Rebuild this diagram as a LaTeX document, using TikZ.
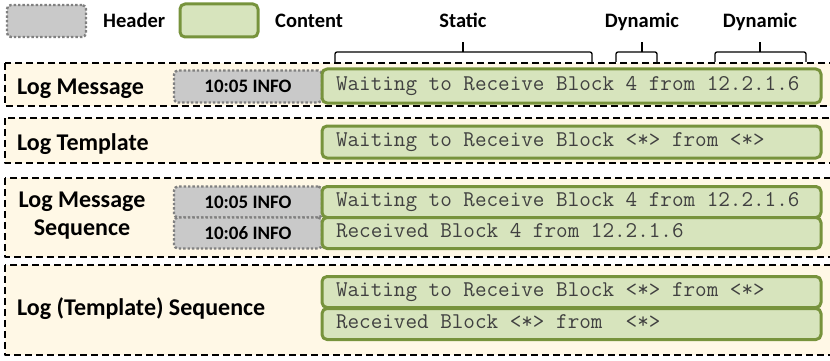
\documentclass[tikz,border=0pt]{standalone}
\usepackage{fontspec}
\setmainfont{Carlito}
\setmonofont{Latin Modern Mono}
\definecolor{panelbg}{HTML}{FFF8E6}
\definecolor{hdrfill}{HTML}{C9C9C9}
\definecolor{hdrline}{HTML}{808080}
\definecolor{msgfill}{HTML}{D7E4BD}
\definecolor{msgline}{HTML}{77933C}
\definecolor{msgtext}{HTML}{404040}
\begin{document}
\begin{tikzpicture}[x=1pt,y=-1pt,line join=round,
	panel/.style={draw=black,dash pattern=on 7pt off 4pt,line width=1.4pt,fill=panelbg},
	hdr/.style={draw=hdrline,fill=hdrfill,dash pattern=on 2.4pt off 2pt,line width=2.4pt,rounded corners=4pt,
		minimum width=148pt,minimum height=32pt,inner sep=0pt,font=\bfseries\fontsize{19}{22}\selectfont},
	msg/.style={draw=msgline,fill=msgfill,line width=3pt,rounded corners=5pt,minimum height=32pt,
		text width=471pt,align=left,inner xsep=14pt,inner ysep=0pt,text height=12.5pt,text depth=4pt,
		execute at begin node={\spaceskip=0pt\xspaceskip=0pt\relax},
		text=msgtext,font=\ttfamily\fontsize{22.5}{24}\selectfont},
	lbl/.style={anchor=base west,inner sep=0pt,font=\bfseries\fontsize{24}{28}\selectfont},
	key/.style={anchor=base,inner sep=0pt,font=\bfseries\fontsize{20.5}{24}\selectfont},
	brk/.style={line width=1.3pt,rounded corners=2pt}]
	\path[use as bounding box] (0,0) rectangle (830,361);
	\clip (0,0) rectangle (830,361);
	% legend
	\node[hdr,minimum width=79pt,minimum height=32pt] (kh) at (46.5,21) {};
	\node[key,anchor=base west] (khl) at (103,28) {Header};
	\node[msg,text width=0pt,inner xsep=0pt,minimum width=78pt,minimum height=33pt] (kc) at (219,20.5) {};
	\node[key,anchor=base west] (kcl) at (275,28) {Content};
	% braces over the message
	\foreach \l/\m/\r/\t/\n in {335/463/592/Static/st,616/642/657/Dynamic/dy1,715/760/806/Dynamic/dy2}{
		\node[key] (\n) at (\m,27.5) {\t};
		\coordinate (\n-l) at (\l,62);
		\coordinate (\n-r) at (\r,62);
		\coordinate (\n-m) at (\m,52);
		\draw[brk] (\n-l) |- (\n-m) -| (\n-r);
		\draw[line width=1.3pt] (\n-m) -- ++(0,-10);
	}
	% panels
	\draw[panel] (5,63) rectangle (845,106);
	\draw[panel] (5,118) rectangle (845,163);
	\draw[panel] (5,178) rectangle (845,257);
	\draw[panel] (5,265) rectangle (845,355);
	% log message
	\node[lbl] (lm) at (17,94) {Log Message};
	\node[hdr] (lm-h) at (248,86.5) {10:05 INFO};
	\node[msg,minimum height=34pt] (lm-c) at (571.5,86) {Waiting to Receive Block 4 from 12.2.1.6};
	% log template
	\node[lbl] (lt) at (17,150) {Log Template};
	\node[msg] (lt-c) at (571.5,142) {Waiting to Receive Block <*> from <*>};
	% log message sequence
	\node[lbl,anchor=base,align=center] (ls) at (82,235) {Log Message\\Sequence};
	\node[hdr,minimum height=31pt] (ls-h1) at (248,202) {10:05 INFO};
	\node[hdr,minimum height=31pt] (ls-h2) at (248,233) {10:06 INFO};
	\node[msg,minimum height=31pt] (ls-c1) at (571.5,202) {Waiting to Receive Block 4 from 12.2.1.6};
	\node[msg,minimum height=31pt] (ls-c2) at (571.5,233) {Received Block 4 from 12.2.1.6};
	% log (template) sequence
	\node[lbl] (ts) at (17,315) {Log (Template) Sequence};
	\node[msg,minimum height=31pt] (ts-c1) at (571.5,292) {Waiting to Receive Block <*> from <*>};
	\node[msg,minimum height=31pt] (ts-c2) at (571.5,324) {Received Block <*> from\ \ <*>};
\end{tikzpicture}
\end{document}
